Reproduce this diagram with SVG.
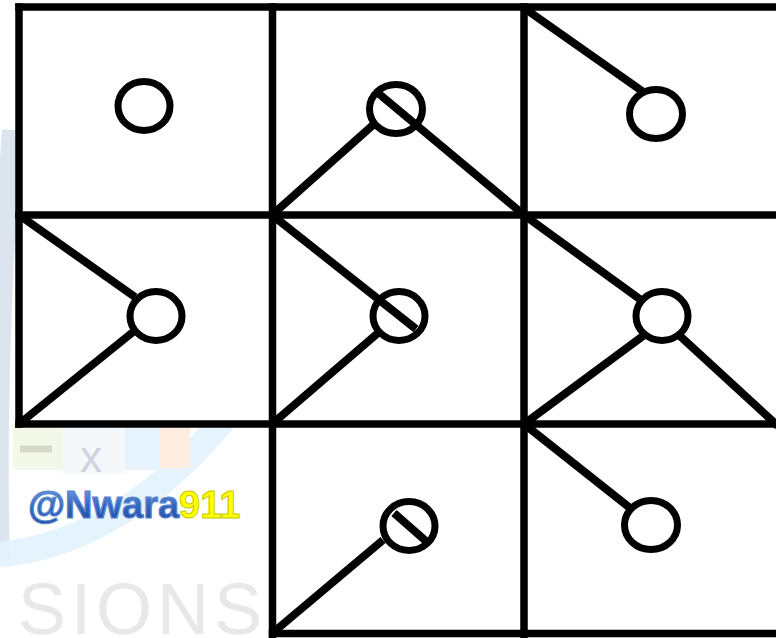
<svg xmlns="http://www.w3.org/2000/svg" width="776" height="638" viewBox="0 0 776 638">
  <defs>
    <style>
      .g { stroke:#000; stroke-width:7.5; fill:none; stroke-linecap:square; }
      .ln { stroke:#000; stroke-width:8; fill:none; stroke-linecap:butt; }
      .c { stroke:#000; stroke-width:7; fill:none; }
      .wm { font-family:"Liberation Sans", Arial, sans-serif; font-weight:bold; }
    </style>
    <linearGradient id="blue" x1="0" y1="0" x2="0" y2="1">
      <stop offset="0" stop-color="#7aa6e6"/>
      <stop offset="0.5" stop-color="#3566c0"/>
      <stop offset="1" stop-color="#1a479e"/>
    </linearGradient>
  </defs>
  <rect width="776" height="638" fill="#fff"/>
  <g id="watermark">
    <path d="M12 130 C 2 260, -4 420, 0 560" stroke="#d3dee9" stroke-width="20" fill="none" opacity="0.8"/>
    <path d="M-5 555 Q 120 545 225 418" stroke="#e2f3fc" stroke-width="26" fill="none" opacity="0.9"/>
    <rect x="13" y="424" width="50" height="46" fill="#f3f8e8"/>
    <rect x="63" y="424" width="62" height="50" fill="#f5f8fb"/>
    <rect x="125" y="424" width="35" height="46" fill="#e6f2fc"/>
    <rect x="160" y="424" width="30" height="44" fill="#fcede0"/>
    <line x1="20" y1="449" x2="52" y2="449" stroke="#d6d9c8" stroke-width="7"/>
    <text x="80" y="472" font-family="'Liberation Sans', Arial, sans-serif" font-size="44" fill="#cfd3dc">x</text>
    <text x="18" y="634" font-family="'Liberation Sans', Arial, sans-serif" font-size="72" letter-spacing="5" fill="#e8e8e8">SIONS</text>
    <text class="wm" x="28" y="518" font-size="38"><tspan fill="url(#blue)" stroke="#5a86cf" stroke-width="1.2">@Nwara</tspan><tspan fill="#ffff00" stroke="#c9c900" stroke-width="1">911</tspan></text>
  </g>
  <rect x="19" y="7" width="757" height="417" fill="#fff"/>
  <rect x="272" y="424" width="504" height="210" fill="#fff"/>
  <g id="grid">
    <line class="g" x1="19" y1="7" x2="780" y2="7"/>
    <line class="g" x1="19" y1="215" x2="780" y2="215"/>
    <line class="g" x1="19" y1="424" x2="780" y2="424"/>
    <line class="g" x1="272.5" y1="633.5" x2="780" y2="633.5"/>
    <line class="g" x1="19" y1="7" x2="19" y2="424"/>
    <line class="g" x1="272.5" y1="7" x2="272.5" y2="640"/>
    <line class="g" x1="524" y1="7" x2="524" y2="640"/>
  </g>
  <g id="cell-1-1"><ellipse class="c" cx="144" cy="106" rx="26" ry="24.5"/></g>
  <g id="cell-1-2">
    <ellipse class="c" cx="396" cy="109" rx="26.5" ry="24.5"/>
    <line class="ln" x1="272" y1="215" x2="373" y2="125"/>
    <line class="ln" x1="524" y1="215" x2="378" y2="93"/>
  </g>
  <g id="cell-1-3">
    <ellipse class="c" cx="656" cy="114" rx="26.5" ry="24.5"/>
    <line class="ln" x1="524" y1="8" x2="642" y2="91"/>
  </g>
  <g id="cell-2-1">
    <ellipse class="c" cx="156" cy="316" rx="26" ry="24.5"/>
    <line class="ln" x1="19" y1="215" x2="135" y2="297"/>
    <line class="ln" x1="19" y1="424" x2="133" y2="332"/>
  </g>
  <g id="cell-2-2">
    <ellipse class="c" cx="399" cy="316" rx="26" ry="24.5"/>
    <line class="ln" x1="272" y1="215" x2="416" y2="329"/>
    <line class="ln" x1="272" y1="424" x2="378" y2="333"/>
  </g>
  <g id="cell-2-3">
    <ellipse class="c" cx="662" cy="316" rx="26" ry="24.5"/>
    <line class="ln" x1="524" y1="215" x2="641" y2="300"/>
    <line class="ln" x1="524" y1="424" x2="643" y2="336"/>
    <line class="ln" x1="680" y1="336" x2="778" y2="426"/>
  </g>
  <g id="cell-3-2">
    <ellipse class="c" cx="409" cy="526" rx="26" ry="24.5"/>
    <line class="ln" x1="272.5" y1="633" x2="383" y2="540"/>
    <line class="ln" x1="394" y1="513" x2="427" y2="542"/>
  </g>
  <g id="cell-3-3">
    <ellipse class="c" cx="651" cy="525" rx="26.5" ry="24.5"/>
    <line class="ln" x1="524" y1="424" x2="630" y2="508"/>
  </g>
</svg>
